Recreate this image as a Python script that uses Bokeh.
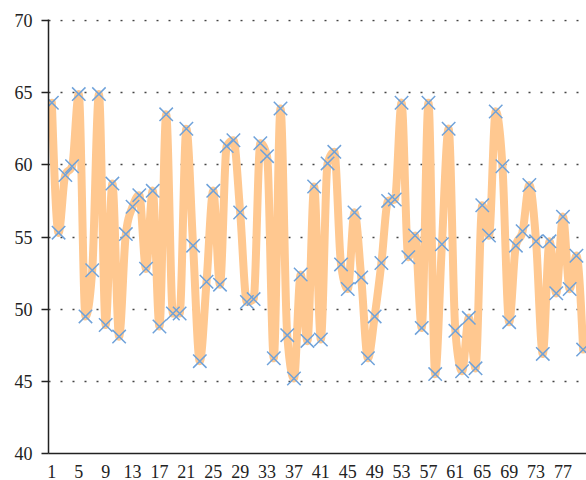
import numpy as np
from bokeh.plotting import figure
from bokeh.models import FixedTicker, Range1d
from bokeh.embed import file_html
from bokeh.resources import INLINE

# ---- data ----
x_values = list(range(1, 81))
y_values = [
    64.3, 55.3, 59.3, 59.9, 64.9, 49.5, 52.7, 64.9, 48.9, 58.7,
    48.1, 55.2, 57.1, 57.9, 52.8, 58.2, 48.8, 63.5, 49.7, 49.7,
    62.5, 54.4, 46.4, 51.9, 58.2, 51.7, 61.3, 61.7, 56.7, 50.5,
    50.7, 61.5, 60.6, 46.6, 63.9, 48.2, 45.2, 52.4, 47.8, 58.5,
    47.9, 60.1, 60.9, 53.1, 51.4, 56.7, 52.2, 46.6, 49.5, 53.2,
    57.5, 57.6, 64.3, 53.6, 55.1, 48.7, 64.3, 45.5, 54.5, 62.5,
    48.5, 45.7, 49.4, 45.9, 57.2, 55.1, 63.7, 59.9, 49.1, 54.4,
    55.4, 58.6, 54.7, 46.9, 54.7, 51.1, 56.4, 51.4, 53.7, 47.2,
]
x_tick_values = list(range(1, 80, 4))
y_tick_values = [40, 45, 50, 55, 60, 65, 70]
grid_values = [45, 50, 55, 60, 65, 70]


def smooth_curve(xs, ys, steps=20):
    """Monotone cubic (Steffen) rendering path through the data points."""
    xs = np.asarray(xs, float)
    ys = np.asarray(ys, float)
    n = len(xs)
    h = np.diff(xs)
    s = np.diff(ys) / h
    m = np.zeros(n)
    for i in range(1, n - 1):
        p = (s[i - 1] * h[i] + s[i] * h[i - 1]) / (h[i - 1] + h[i])
        m[i] = (np.sign(s[i - 1]) + np.sign(s[i])) * min(abs(s[i - 1]), abs(s[i]), 0.5 * abs(p))
    m[0] = (3 * s[0] - m[1]) / 2
    m[-1] = (3 * s[-1] - m[-2]) / 2
    t = np.linspace(0, 1, steps, endpoint=False)
    h00 = 2 * t**3 - 3 * t**2 + 1
    h10 = t**3 - 2 * t**2 + t
    h01 = -2 * t**3 + 3 * t**2
    h11 = t**3 - t**2
    out_x, out_y = [], []
    for i in range(n - 1):
        out_x.extend(xs[i] + t * h[i])
        out_y.extend(h00 * ys[i] + h10 * h[i] * m[i] + h01 * ys[i + 1] + h11 * h[i] * m[i + 1])
    out_x.append(xs[-1])
    out_y.append(ys[-1])
    return out_x, out_y


FONT = "Liberation Serif"

p = figure(
    width=586, height=480,
    x_range=Range1d(0.5, 80.5), y_range=Range1d(40, 70.07),
    output_backend="svg", toolbar_location=None,
    min_border_left=48, min_border_right=0, min_border_top=19, min_border_bottom=27,
)
p.outline_line_color = None
p.background_fill_color = "white"
p.border_fill_color = "white"

p.xgrid.visible = False
p.ygrid.ticker = FixedTicker(ticks=grid_values)
p.ygrid.grid_line_color = "#444444"
p.ygrid.grid_line_dash = "2 10"
p.ygrid.grid_line_width = 1.3

sx, sy = smooth_curve(x_values, y_values)
p.line(sx, sy, line_width=8, line_color="#FFC890", line_join="round", line_cap="round")
p.scatter(x_values, y_values, marker="x", size=19, line_color="#6FA2DA", line_width=1.5)

for ax in (p.xaxis[0], p.yaxis[0]):
    ax.axis_line_color = "#222222"
    ax.axis_line_width = 1.5
    ax.minor_tick_line_color = None
    ax.major_label_text_font = FONT
    ax.major_label_text_font_size = "18px"
    ax.major_label_text_color = "#222222"

p.xaxis.ticker = FixedTicker(ticks=x_tick_values)
p.xaxis.major_tick_line_color = None
p.xaxis.major_tick_out = 0
p.xaxis.major_tick_in = 0
p.xaxis.major_label_standoff = 11

p.yaxis.ticker = FixedTicker(ticks=y_tick_values)
p.yaxis.major_tick_out = 7
p.yaxis.major_tick_in = 0
p.yaxis.major_tick_line_color = "#222222"
p.yaxis.major_tick_line_width = 1.5
p.yaxis.major_label_standoff = 9

open("out.html", "w").write(file_html(p, INLINE))
